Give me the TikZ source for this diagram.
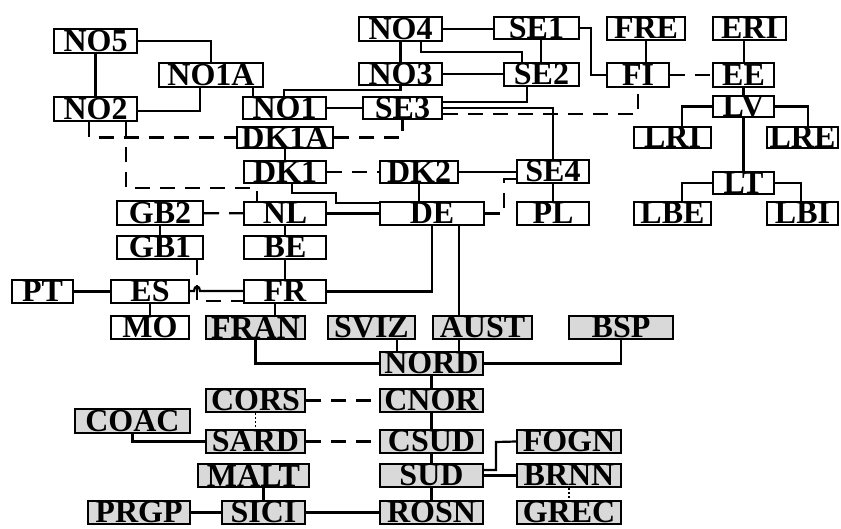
\documentclass[tikz,border=0pt]{standalone}
\usepackage{fontspec}
\setmainfont{Liberation Serif}
\definecolor{boxgray}{RGB}{217,217,217}
\tikzset{
  nbox/.style={draw=black, line width=2.2pt, fill=white, inner sep=0pt,
    font=\bfseries\fontsize{32}{32}\selectfont, anchor=center},
  gbox/.style={nbox, fill=boxgray},
  conn/.style={line width=2.2pt},
  dsh/.style={conn, dash pattern=on 15pt off 10pt},
  dtt/.style={line width=1.4pt, dash pattern=on 2pt off 2pt}
}
\newcommand\bnode[7]{%
  \pgfmathsetmacro\bw{#4-#2-2.2}\pgfmathsetmacro\bh{#5-#3-2.2}%
  \pgfmathsetmacro\bcx{(#2+#4)/2}\pgfmathsetmacro\bcy{(#3+#5)/2}%
  \node[#7, minimum width=\bw pt, minimum height=\bh pt] (#1) at (\bcx,\bcy) {#6};}
\begin{document}
\begin{tikzpicture}[x=1pt,y=-1pt]
\useasboundingbox (0,0) rectangle (841,528);
% ---- nodes
\bnode{NO5}{53}{28}{138}{54}{NO5}{nbox}
\bnode{NO1A}{158}{62}{264}{88}{NO1A}{nbox}
\bnode{NO2}{53}{96}{138}{122}{NO2}{nbox}
\bnode{NO1}{242}{96}{327}{120}{NO1}{nbox}
\bnode{DK1A}{236}{126}{334}{149}{DK1A}{nbox}
\bnode{NO4}{358}{16}{443}{42}{NO4}{nbox}
\bnode{NO3}{358}{62}{443}{86}{NO3}{nbox}
\bnode{SE3}{362}{96}{443}{120}{SE3}{nbox}
\bnode{SE1}{493}{16}{580}{40}{SE1}{nbox}
\bnode{SE2}{503}{62}{580}{87}{SE2}{nbox}
\bnode{FRE}{606}{16}{686}{41}{FRE}{nbox}
\bnode{FI}{606}{62}{670}{88}{FI}{nbox}
\bnode{ERI}{712}{16}{787}{41}{ERI}{nbox}
\bnode{EE}{712}{62}{775}{88}{EE}{nbox}
\bnode{LV}{712}{96}{775}{117}{LV}{nbox}
\bnode{LRI}{633}{126}{712}{149}{LRI}{nbox}
\bnode{LRE}{766}{126}{839}{149}{LRE}{nbox}
\bnode{LT}{712}{171}{775}{195}{LT}{nbox}
\bnode{LBE}{633}{201}{712}{226}{LBE}{nbox}
\bnode{LBI}{766}{201}{839}{226}{LBI}{nbox}
\bnode{SE4}{516}{159}{590}{184}{SE4}{nbox}
\bnode{PL}{516}{201}{590}{226}{PL}{nbox}
\bnode{DK1}{243}{160}{327}{184}{DK1}{nbox}
\bnode{DK2}{379}{160}{459}{184}{DK2}{nbox}
\bnode{NL}{243}{201}{327}{226}{NL}{nbox}
\bnode{DE}{379}{201}{485}{226}{DE}{nbox}
\bnode{GB2}{116}{200}{204}{226}{GB2}{nbox}
\bnode{GB1}{116}{235}{204}{260}{GB1}{nbox}
\bnode{BE}{243}{235}{327}{260}{BE}{nbox}
\bnode{PT}{11}{279}{74}{304}{PT}{nbox}
\bnode{ES}{110}{279}{190}{304}{ES}{nbox}
\bnode{FR}{243}{279}{327}{304}{FR}{nbox}
\bnode{MO}{110}{315}{190}{340}{MO}{nbox}
\bnode{FRAN}{205}{315}{306}{340}{FRAN}{gbox}
\bnode{SVIZ}{327}{315}{416}{340}{SVIZ}{gbox}
\bnode{AUST}{432}{315}{533}{340}{AUST}{gbox}
\bnode{BSP}{568}{315}{674}{340}{BSP}{gbox}
\bnode{NORD}{379}{351}{484}{376}{NORD}{gbox}
\bnode{CNOR}{379}{388}{484}{413}{CNOR}{gbox}
\bnode{CSUD}{379}{429}{484}{454}{CSUD}{gbox}
\bnode{SUD}{379}{463}{484}{488}{SUD}{gbox}
\bnode{ROSN}{379}{500}{484}{525}{ROSN}{gbox}
\bnode{FOGN}{516}{429}{622}{454}{FOGN}{gbox}
\bnode{BRNN}{516}{463}{622}{488}{BRNN}{gbox}
\bnode{GREC}{516}{500}{622}{525}{GREC}{gbox}
\bnode{CORS}{205}{388}{306}{413}{CORS}{gbox}
\bnode{SARD}{205}{429}{306}{454}{SARD}{gbox}
\bnode{COAC}{74}{408}{191}{434}{COAC}{gbox}
\bnode{MALT}{197}{463}{310}{488}{MALT}{gbox}
\bnode{SICI}{221}{500}{306}{525}{SICI}{gbox}
\bnode{PRGP}{87}{500}{191}{525}{PRGP}{gbox}
% ---- connectors
\draw[conn] (NO5.east) -| (NO1A.north);
\draw[conn] (NO5) -- (NO2);
\draw[conn] (NO2.east |- 0,111) -| (NO1A.south -| 200,0);
\draw[conn] (NO1A.south -| 253,0) -- (NO1.north -| 253,0);
\draw[dsh] (NO2.south -| 89,0) |- (DK1A.west);
\draw[dsh] (NO2.south -| 126,0) |- (257,188) -- (NL.north -| 257,0);
\draw[conn] (NO4.east) -- (SE1.west |- NO4.east);
\draw[conn] (NO4) -- (NO3);
\draw[conn] (NO4.south -| 421,0) |- (522,52) -- (SE2.north -| 522,0);
\draw[conn] (NO3.east) -- (SE2.west |- NO3.east);
\draw[conn] (NO3.south) |- (284,90) -- (NO1.north -| 284,0);
\draw[conn] (NO1.east) -- (SE3.west |- NO1.east);
\draw[conn] (SE2.south -| 527,0) |- (SE3.east |- 0,102);
\draw[conn] (SE3.east |- 0,108) -| (SE4.north);
\draw[dsh] (SE3.east |- 0,114) -| (FI.south);
\draw[dsh] (DK1A.east) -| (SE3.south);
\draw[conn] (DK1A) -- (DK1);
\draw[dsh] (DK1) -- (DK2);
\draw[conn] (DK2.east) -- (SE4.west |- DK2.east);
\draw[conn] (DK2.south) -- (DE.north -| DK2.south);
\draw[conn] (DK1.south -| 292,0) |- (336,193) |- (DE.west |- 0,203);
\draw[conn] (NL) -- (DE);
\draw[dsh] (GB2) -- (NL);
\draw[conn] (GB2) -- (GB1);
\draw[conn] (NL) -- (BE);
\draw[conn] (BE) -- (FR);
\draw[dsh] (GB1.south -| 197,0) |- (FR.west |- 0,301);
\draw[conn] (FR.west |- 0,291) -- (200,291) .. controls (200,285) and (194,285) .. (194,291) -- (ES.east |- 0,291);
\draw[conn] (PT) -- (ES);
\draw[conn] (ES) -- (MO);
\draw[conn] (FR.south -| 275,0) -- (FRAN.north -| 275,0);
\draw[conn] (DE.south) |- (FR.east);
\draw[conn] (DE.south -| 459,0) -- (AUST.north -| 459,0);
\draw[dsh] (DE.east) -| (504,179) -- (SE4.west |- 0,179);
\draw[conn] (SE4) -- (PL);
\draw[conn] (SE1.east) -| (591,75) -- (FI.west);
\draw[conn] (SE1.south -| 541,0) -- (SE2.north -| 541,0);
\draw[conn] (FRE.south) -- (FI.north -| FRE.south);
\draw[dsh] (FI) -- (EE);
\draw[conn] (ERI.south -| 744,0) -- (EE.north -| 744,0);
\draw[conn] (EE) -- (LV);
\draw[conn] (LV) -- (LT);
\draw[conn] (LV.west) -| (LRI.north -| 682,0);
\draw[conn] (LV.east) -| (LRE.north -| 808,0);
\draw[conn] (LT.west) -| (LBE.north -| 682,0);
\draw[conn] (LT.east) -| (LBI.north -| 801,0);
\draw[conn] (FRAN.south) |- (NORD.west);
\draw[conn] (SVIZ.south -| 397,0) -- (NORD.north -| 397,0);
\draw[conn] (AUST.south -| 459,0) -- (NORD.north -| 459,0);
\draw[conn] (BSP.south) |- (NORD.east);
\draw[conn] (NORD) -- (CNOR);
\draw[conn] (CNOR) -- (CSUD);
\draw[conn] (CSUD) -- (SUD);
\draw[conn] (SUD) -- (ROSN);
\draw[dsh] (CORS) -- (CNOR);
\draw[dsh] (SARD) -- (CSUD);
\draw[dtt] (CORS) -- (SARD);
\draw[conn] (COAC.south) |- (SARD.west);
\draw[conn] (SICI.north) -- (MALT.south -| SICI.north);
\draw[conn] (PRGP) -- (SICI);
\draw[conn] (SICI) -- (ROSN);
\draw[conn] (SUD.east |- 0,470) -| (496,442) -- (FOGN.west);
\draw[conn] (SUD) -- (BRNN);
\draw[dtt] (BRNN) -- (GREC);
\end{tikzpicture}
\end{document}
